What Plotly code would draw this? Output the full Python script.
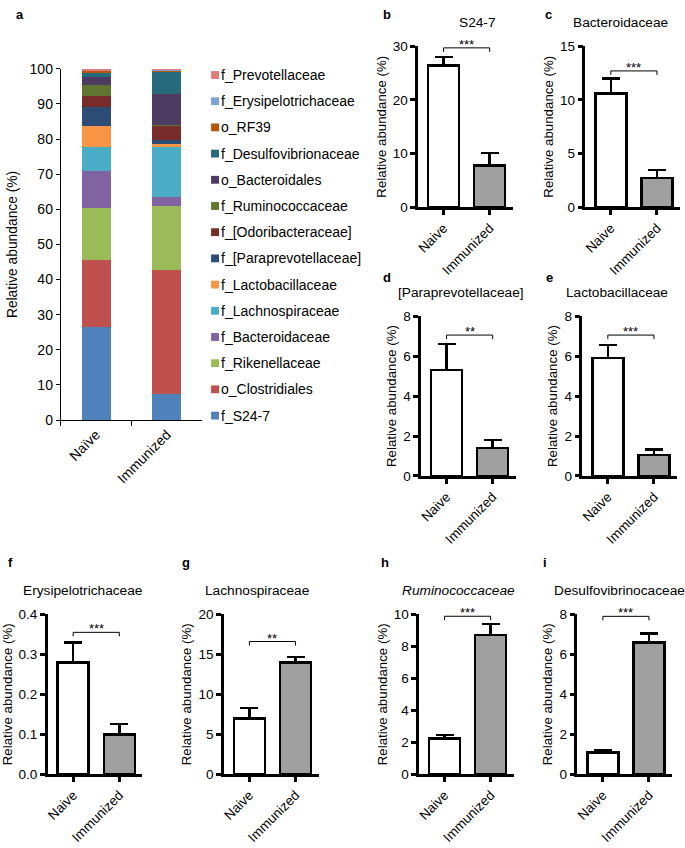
import plotly.graph_objects as go

# ---- panel a: stacked relative abundance ----
groups = ["Naïve", "Immunized"]
taxa = ["f_S24-7", "o_Clostridiales", "f_Rikenellaceae", "f_Bacteroidaceae",
        "f_Lachnospiraceae", "f_Lactobacillaceae", "f_[Paraprevotellaceae]",
        "f_[Odoribacteraceae]", "f_Ruminococcaceae", "o_Bacteroidales",
        "f_Desulfovibrionaceae", "o_RF39", "f_Erysipelotrichaceae", "f_Prevotellaceae"]
naive_stack = [26.5, 19.0, 14.8, 10.7, 6.7, 6.1, 5.4, 3.2, 3.0, 2.2, 1.1, 0.8, 0.2, 0.3]
immunized_stack = [7.5, 35.1, 18.3, 2.7, 14.1, 0.9, 1.1, 4.2, 0.2, 8.8, 6.4, 0.4, 0.1, 0.2]
taxa_colors = ["#4F81BD", "#C0504D", "#9BBB59", "#8064A2", "#4BACC6", "#F79646", "#2C4D75",
               "#772C2A", "#5F7530", "#4D3B62", "#276A7C", "#B65708", "#7EA3D6", "#E07B7B"]

# ---- panels b-i: mean + SEM ----
bar_groups = ["Naive", "Immunized"]
panel_letters = ["b", "c", "d", "e", "f", "g", "h", "i"]
panel_titles = ["S24-7", "Bacteroidaceae", "[Paraprevotellaceae]", "Lactobacillaceae",
                "Erysipelotrichaceae", "Lachnospiraceae", "<i>Ruminococcaceae</i>",
                "Desulfovibrinocaceae"]
naive_mean = [26.4, 10.6, 5.3, 5.9, 0.28, 7.0, 2.25, 1.1]
naive_err = [1.6, 1.4, 1.3, 0.65, 0.05, 1.3, 0.22, 0.12]
imm_mean = [7.8, 2.7, 1.4, 1.05, 0.10, 13.95, 8.7, 6.6]
imm_err = [2.3, 0.75, 0.4, 0.28, 0.026, 0.7, 0.7, 0.45]
sig_labels = ["***", "***", "**", "***", "***", "**", "***", "***"]
sig_y = [29.7, 12.7, 7.05, 7.05, 0.355, 16.6, 9.88, 7.9]
y_max = [30, 15, 8, 8, 0.4, 20, 10, 8]
y_dtick = [10, 5, 2, 2, 0.1, 5, 2, 2]

W, H = 685, 848
FONT = "Arial, Liberation Sans, sans-serif"

# layout in pixels: (axis left, plot top, plot bottom, title center x, letter x, letter y)
panel_px = [
    (417, 39, 203, 477, 380, 7),
    (585, 39, 203, 620, 542, 7),
    (420, 314, 477, 460, 380, 275),
    (582, 314, 477, 617, 543, 275),
    (45, 618, 781, 80, 3, 565),
    (222, 618, 781, 255, 178, 565),
    (418, 618, 781, 458, 378, 565),
    (577, 618, 781, 619, 540, 565),
]
PANEL_W = 95


def fx(px):
    return px / W


def fy(py):
    return 1 - py / H


fig = go.Figure()

for name, a, b, c in zip(taxa, naive_stack, immunized_stack, taxa_colors):
    fig.add_trace(go.Bar(x=groups, y=[a, b], name=name, marker=dict(color=c, line=dict(width=0)),
                         width=0.41, showlegend=False, xaxis="x", yaxis="y"))

annotations = []
shapes = []

fig.update_layout(
    xaxis=dict(domain=[fx(58), fx(200)], range=[-0.5, 1.5], showline=True, linecolor="black",
               linewidth=1, ticks="outside", tickson="boundaries", ticklen=5, tickcolor="black",
               tickangle=-45, tickfont=dict(size=14, color="black"), showgrid=False, anchor="y"),
    yaxis=dict(domain=[fy(420), fy(62)], range=[0, 100], dtick=10, showline=True, linecolor="black",
               linewidth=1, ticks="outside", ticklen=4, tickcolor="black", showgrid=False,
               zeroline=False, tickfont=dict(size=14, color="black"), anchor="x",
               title=dict(text="Relative abundance (%)", font=dict(size=13.8, color="black"), standoff=8)),
)

# legend for panel a (top of stack first)
for i, (name, c) in enumerate(zip(taxa[::-1], taxa_colors[::-1])):
    yc = 68.3 + i * 26.7
    shapes.append(dict(type="rect", xref="paper", yref="paper", x0=fx(209), x1=fx(217),
                       y0=fy(yc + 4), y1=fy(yc - 4), fillcolor=c, line=dict(width=0)))
    annotations.append(dict(x=fx(217), y=fy(yc), xref="paper", yref="paper", text=name,
                            showarrow=False, xanchor="left", yanchor="middle",
                            font=dict(size=14, color="black")))
annotations.append(dict(x=fx(11), y=fy(7), xref="paper", yref="paper", text="<b>a</b>",
                        showarrow=False, xanchor="left", yanchor="middle", font=dict(size=13)))

for k in range(8):
    n = k + 2
    xa, ya = f"x{n}", f"y{n}"
    left, top, bottom, tx, lx, ly = panel_px[k]
    fig.add_trace(go.Bar(
        x=[0, 1], y=[naive_mean[k], imm_mean[k]], width=0.67, showlegend=False,
        marker=dict(color=["white", "#A0A0A0"], line=dict(color="black", width=2.5)),
        error_y=dict(type="data", symmetric=False, array=[naive_err[k], imm_err[k]],
                     arrayminus=[0, 0], color="black", thickness=2.5, width=9),
        xaxis=xa, yaxis=ya))
    fig.update_layout({
        f"xaxis{n}": dict(domain=[fx(left), fx(left + PANEL_W)], range=[-0.55, 1.5],
                          tickvals=[0, 1], ticktext=bar_groups, tickangle=-45, showline=True,
                          linecolor="black", linewidth=2.5, ticks="outside", ticklen=5,
                          tickwidth=2.5, tickcolor="black", showgrid=False, zeroline=False,
                          tickfont=dict(size=13.5, color="black"), anchor=ya),
        f"yaxis{n}": dict(domain=[fy(bottom), fy(top)], range=[0, y_max[k]], tick0=0,
                          dtick=y_dtick[k], showline=True, linecolor="black", linewidth=2.5,
                          ticks="outside", ticklen=5, tickwidth=2.5, tickcolor="black",
                          showgrid=False, zeroline=False, tickformat=".1f" if y_max[k] < 1 else "",
                          tickfont=dict(size=13.5, color="black"), anchor=xa,
                          title=dict(text="Relative abundance (%)",
                                     font=dict(size=13.3, color="black"), standoff=4)),
    })
    # significance bracket
    shapes.append(dict(type="path", xref=xa, yref=ya, ysizemode="pixel", yanchor=sig_y[k],
                       path="M 0,-4 L 0,0 L 1,0 L 1,-4", line=dict(color="black", width=1)))
    annotations.append(dict(x=0.5, y=sig_y[k], xref=xa, yref=ya, text=sig_labels[k],
                            showarrow=False, yanchor="bottom", yshift=-6,
                            font=dict(size=13, color="black")))
    annotations.append(dict(x=fx(tx), y=fy(top - 24), xref="paper", yref="paper",
                            text=panel_titles[k], showarrow=False, xanchor="center",
                            yanchor="middle", font=dict(size=13.7, color="black")))
    annotations.append(dict(x=fx(lx), y=fy(ly), xref="paper", yref="paper",
                            text=f"<b>{panel_letters[k]}</b>", showarrow=False,
                            xanchor="left", yanchor="middle", font=dict(size=13, color="black")))

fig.update_layout(
    width=W, height=H, margin=dict(l=0, r=0, t=0, b=0), barmode="stack",
    plot_bgcolor="white", paper_bgcolor="white", showlegend=False,
    font=dict(family=FONT, color="black"),
    annotations=annotations, shapes=shapes,
)

# drop the default page margin so the figure sits at the window's top-left corner
fig.write_html("out.html", config={"displayModeBar": False},
               post_script="document.body.style.margin='0px';")
